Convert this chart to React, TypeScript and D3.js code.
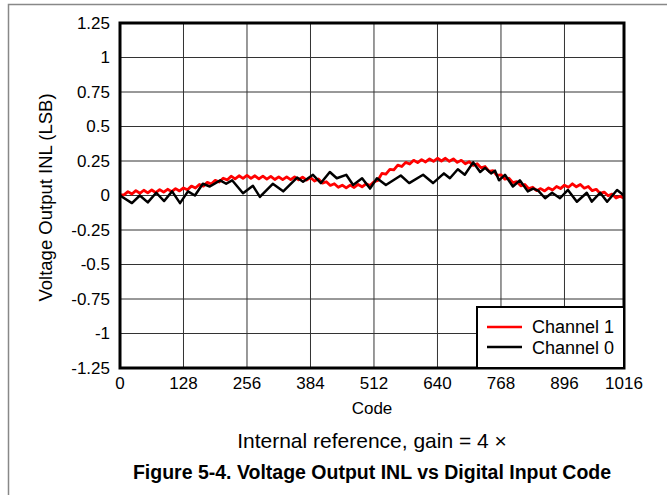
import React from "react";
import * as d3 from "d3";

const xTicks = [0, 128, 256, 384, 512, 640, 768, 896, 1016];
const yTicks = [1.25, 1, 0.75, 0.5, 0.25, 0, -0.25, -0.5, -0.75, -1, -1.25];

// Channel 1 (red): sampled every 8 codes, 0..1016
const ch1Values = [
  0.005, 0.004, 0.028, 0.011, 0.035, 0.016, 0.038, 0.019,
  0.040, 0.021, 0.043, 0.024, 0.045, 0.028, 0.050, 0.033,
  0.055, 0.041, 0.068, 0.054, 0.080, 0.068, 0.095, 0.083,
  0.110, 0.098, 0.125, 0.113, 0.140, 0.121, 0.143, 0.124,
  0.145, 0.124, 0.143, 0.121, 0.140, 0.119, 0.138, 0.116,
  0.135, 0.115, 0.135, 0.115, 0.135, 0.114, 0.133, 0.111,
  0.130, 0.105, 0.120, 0.090, 0.100, 0.073, 0.085, 0.060,
  0.075, 0.055, 0.075, 0.058, 0.080, 0.063, 0.085, 0.073,
  0.100, 0.110, 0.160, 0.155, 0.190, 0.185, 0.220, 0.210,
  0.240, 0.228, 0.255, 0.238, 0.260, 0.243, 0.265, 0.248,
  0.270, 0.250, 0.270, 0.248, 0.265, 0.240, 0.255, 0.230,
  0.245, 0.218, 0.230, 0.200, 0.210, 0.175, 0.180, 0.145,
  0.150, 0.118, 0.125, 0.093, 0.100, 0.070, 0.080, 0.050,
  0.060, 0.035, 0.050, 0.033, 0.055, 0.040, 0.065, 0.050,
  0.075, 0.060, 0.085, 0.063, 0.080, 0.053, 0.065, 0.035,
  0.045, 0.015, 0.025, -0.002, 0.010, -0.018, -0.005, -0.020,
];
const ch1Codes = ch1Values.map((_, i) => i * 8);

// Channel 0 (black): zigzag vertices
const ch0Codes = [
  0, 24, 40, 56, 73, 89, 105, 121, 137, 151,
  167, 181, 202, 214, 226, 248, 268, 282, 308, 329,
  357, 369, 389, 405, 423, 437, 456, 470, 488, 504,
  518, 536, 566, 583, 611, 631, 653, 665, 681, 695,
  712, 726, 736, 748, 756, 764, 776, 792, 806, 822,
  833, 843, 857, 871, 887, 903, 921, 941, 951, 968,
  982, 1002, 1016,
];
const ch0Values = [
  0, -0.055, 0, -0.05, 0.02, -0.04, 0.03, -0.055, 0.03, 0,
  0.085, 0.065, 0.11, 0.085, 0.11, 0.016, 0.07, -0.01, 0.085, 0.03,
  0.13, 0.1, 0.15, 0.09, 0.17, 0.125, 0.15, 0.076, 0.125, 0.05,
  0.125, 0.076, 0.145, 0.09, 0.15, 0.09, 0.16, 0.125, 0.19, 0.15,
  0.24, 0.17, 0.2, 0.16, 0.18, 0.11, 0.15, 0.065, 0.11, 0.03,
  0.05, 0.035, -0.02, 0.02, -0.02, 0.04, -0.045, 0.02, -0.045, 0.02,
  -0.045, 0.04, 0,
];

const W = 667;
const H = 495;
const left = 120;
const right = 624;
const top = 23;
const bottom = 368;
const FONT = "'Liberation Sans', Arial, sans-serif";

export default function App() {
  const x = d3.scaleLinear().domain([0, 1016]).range([left, right]);
  const y = d3.scaleLinear().domain([-1.25, 1.25]).range([bottom, top]);
  const line = d3
    .line<[number, number]>()
    .x((d) => x(d[0]))
    .y((d) => y(d[1]));
  const ch1 = ch1Codes.map((c, i) => [c, ch1Values[i]] as [number, number]);
  const ch0 = ch0Codes.map((c, i) => [c, ch0Values[i]] as [number, number]);

  return (
    <svg
      width={W}
      height={H}
      style={{ position: "absolute", left: 0, top: 0, background: "#fff" }}
      fontFamily={FONT}
    >
      <rect x={0} y={0} width={W} height={H} fill="#fff" />
      {/* outer figure frame */}
      <path d={`M8.5,${H} L8.5,4.5 L${W},4.5`} fill="none" stroke="#888" strokeWidth={1.5} />

      {/* grid */}
      {yTicks.map((t) => (
        <line key={"gy" + t} x1={left} x2={right} y1={y(t)} y2={y(t)} stroke="#333" strokeWidth={1} />
      ))}
      {xTicks.map((t) => (
        <line key={"gx" + t} x1={x(t)} x2={x(t)} y1={top} y2={bottom} stroke="#333" strokeWidth={1} />
      ))}

      {/* data */}
      <path d={line(ch1) || ""} fill="none" stroke="#ff0000" strokeWidth={2.8} strokeLinejoin="round" />
      <path d={line(ch0) || ""} fill="none" stroke="#000" strokeWidth={2.5} strokeLinejoin="round" />

      {/* plot frame */}
      <rect x={left} y={top} width={right - left} height={bottom - top} fill="none" stroke="#000" strokeWidth={3} />

      {/* y tick labels */}
      {yTicks.map((t) => (
        <text key={"ly" + t} x={110} y={y(t)} dy="0.35em" textAnchor="end" fontSize={17} fill="#000">
          {String(t)}
        </text>
      ))}
      {/* x tick labels */}
      {xTicks.map((t) => (
        <text key={"lx" + t} x={x(t)} y={389} textAnchor="middle" fontSize={17} fill="#000">
          {String(t)}
        </text>
      ))}

      <text x={(left + right) / 2} y={414} textAnchor="middle" fontSize={17} fill="#000">
        Code
      </text>
      <text
        transform={`translate(52,${(top + bottom) / 2 + 2}) rotate(-90)`}
        textAnchor="middle"
        fontSize={18.5}
        fill="#000"
      >
        Voltage Output INL (LSB)
      </text>
      <text x={(left + right) / 2} y={448} textAnchor="middle" fontSize={21} fill="#000">
        Internal reference, gain = 4 ×
      </text>
      <text x={(left + right) / 2} y={479} textAnchor="middle" fontSize={19.5} fontWeight="bold" fill="#000">
        Figure 5-4. Voltage Output INL vs Digital Input Code
      </text>

      {/* legend */}
      <rect x={477} y={307} width={right - 477} height={bottom - 307} fill="#fff" stroke="#000" strokeWidth={2} />
      <line x1={487} x2={522} y1={327} y2={327} stroke="#ff0000" strokeWidth={2.5} />
      <text x={532} y={333} fontSize={18} fill="#000">Channel 1</text>
      <line x1={487} x2={522} y1={347} y2={347} stroke="#000" strokeWidth={2.5} />
      <text x={532} y={354} fontSize={18} fill="#000">Channel 0</text>
    </svg>
  );
}
